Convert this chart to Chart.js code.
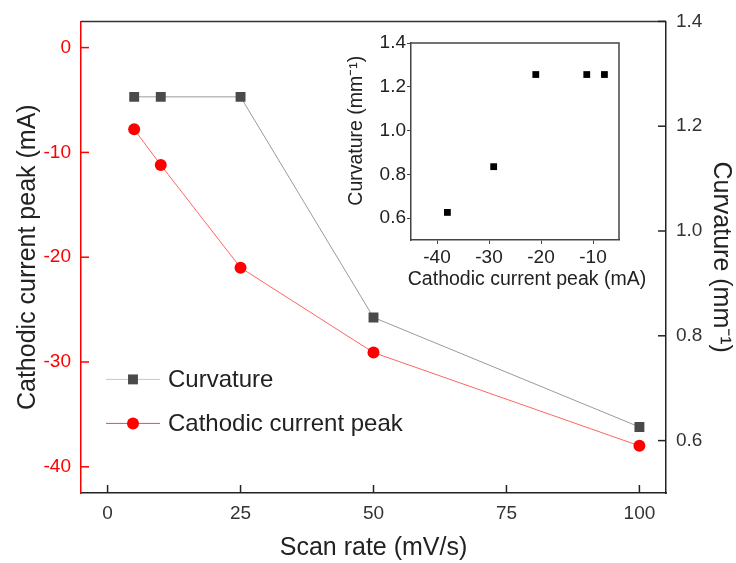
<!DOCTYPE html>
<html>
<head>
<meta charset="utf-8">
<script src="https://cdn.jsdelivr.net/npm/chart.js@4/dist/chart.umd.min.js"></script>
<style>
  html, body { margin: 0; padding: 0; background: #fff; }
  #wrap { position: relative; width: 736px; height: 563px; }
  #main { position: absolute; left: 0; top: 0; }
  #inset { position: absolute; left: 340px; top: 20px; }
</style>
</head>
<body>
<div id="wrap">
  <canvas id="main" width="736" height="563"></canvas>
  <canvas id="inset" width="320" height="280"></canvas>
</div>
<script>
// Measured values
const scanRates = [5, 10, 25, 50, 100];                  // mV/s
const curvature = [1.256, 1.256, 1.256, 0.835, 0.626];   // mm^-1
const cathodicPeak = [-7.8, -11.2, -21.0, -29.1, -38.0]; // mA

// Tick positions
const scanRateTicks = [0, 25, 50, 75, 100];
const peakTicks = [0, -10, -20, -30, -40];
const curvatureTicks = [0.6, 0.8, 1.0, 1.2, 1.4];
const insetPeakTicks = [-40, -30, -20, -10];

const FONT = '"Liberation Sans", Arial, Helvetica, sans-serif';
const RED = '#ff0000';

function fixedTicks(values) {
  return scale => { scale.ticks = values.map(v => ({ value: v })); };
}

// Short tick marks pointing into the plot, plus the top frame line
const innerTicks = {
  id: 'innerTicks',
  afterDraw(chart) {
    const { ctx, chartArea: a, scales } = chart;
    const len = 8;
    ctx.save();
    ctx.lineWidth = 1.5;
    ctx.strokeStyle = '#333';
    ctx.beginPath();
    ctx.moveTo(a.left, a.top);
    ctx.lineTo(a.right, a.top);
    ctx.stroke();
    ctx.strokeStyle = '#222';
    scales.x.ticks.forEach(t => {
      const px = scales.x.getPixelForValue(t.value);
      ctx.beginPath(); ctx.moveTo(px, a.bottom); ctx.lineTo(px, a.bottom - len); ctx.stroke();
    });
    ctx.strokeStyle = RED;
    scales.y.ticks.forEach(t => {
      const py = scales.y.getPixelForValue(t.value);
      ctx.beginPath(); ctx.moveTo(a.left, py); ctx.lineTo(a.left + len, py); ctx.stroke();
    });
    ctx.strokeStyle = '#222';
    scales.y2.ticks.forEach(t => {
      const py = scales.y2.getPixelForValue(t.value);
      ctx.beginPath(); ctx.moveTo(a.right, py); ctx.lineTo(a.right - len, py); ctx.stroke();
    });
    ctx.restore();
  }
};

// Legend drawn inside the lower-left of the plot
const innerLegend = {
  id: 'innerLegend',
  afterDraw(chart) {
    const { ctx, chartArea: a } = chart;
    const x0 = a.left + 25, x1 = a.left + 79, xm = (x0 + x1) / 2;
    const rows = [a.top + 358, a.top + 402];
    ctx.save();
    chart.data.datasets.forEach((ds, i) => {
      const y = rows[i];
      ctx.strokeStyle = ds.legendLine;
      ctx.lineWidth = 1;
      ctx.beginPath(); ctx.moveTo(x0, y); ctx.lineTo(x1, y); ctx.stroke();
      ctx.fillStyle = ds.pointBackgroundColor;
      if (ds.pointStyle === 'rect') {
        const s = ds.pointRadius * Math.SQRT1_2;
        ctx.fillRect(xm - s, y - s, 2 * s, 2 * s);
      } else {
        ctx.beginPath(); ctx.arc(xm, y, ds.pointRadius, 0, Math.PI * 2); ctx.fill();
      }
      ctx.fillStyle = '#222';
      ctx.font = '24px ' + FONT;
      ctx.textBaseline = 'middle';
      ctx.textAlign = 'left';
      ctx.fillText(ds.label, x1 + 8, y + 1);
    });
    ctx.restore();
  }
};

new Chart(document.getElementById('main'), {
  type: 'line',
  data: {
    datasets: [
      {
        label: 'Curvature',
        yAxisID: 'y2',
        data: scanRates.map((x, i) => ({ x, y: curvature[i] })),
        borderColor: '#9a9a9a',
        borderWidth: 1,
        pointStyle: 'rect',
        pointRadius: 7,
        pointBackgroundColor: '#4a4a4a',
        pointBorderColor: '#4a4a4a',
        pointBorderWidth: 0,
        legendLine: '#c8c8c8'
      },
      {
        label: 'Cathodic current peak',
        yAxisID: 'y',
        data: scanRates.map((x, i) => ({ x, y: cathodicPeak[i] })),
        borderColor: '#ff6464',
        borderWidth: 1,
        pointStyle: 'circle',
        pointRadius: 6,
        pointBackgroundColor: RED,
        pointBorderColor: RED,
        pointBorderWidth: 0,
        legendLine: '#ff4040'
      }
    ]
  },
  options: {
    responsive: false,
    animation: false,
    devicePixelRatio: 1,
    layout: { padding: { top: 20, left: 0, right: 0, bottom: 0 } },
    plugins: { legend: { display: false }, tooltip: { enabled: false } },
    scales: {
      x: {
        type: 'linear', position: 'bottom', min: -5, max: 105,
        afterBuildTicks: fixedTicks(scanRateTicks),
        afterFit: s => { s.height = 70; },
        grid: { display: false, drawTicks: false },
        border: { display: true, color: '#222', width: 1.5 },
        ticks: { color: '#333', font: { size: 19, family: FONT }, padding: 9, autoSkip: false, maxRotation: 0 },
        title: { display: true, text: 'Scan rate (mV/s)', color: '#222', font: { size: 25, family: FONT }, padding: { top: 0, bottom: 0 } }
      },
      y: {
        type: 'linear', position: 'left', min: -42.5, max: 2.5,
        afterBuildTicks: fixedTicks(peakTicks),
        afterFit: s => { s.width = 81; },
        grid: { display: false, drawTicks: false },
        border: { display: true, color: RED, width: 1.5 },
        ticks: { color: RED, font: { size: 19, family: FONT }, padding: 10, autoSkip: false },
        title: { display: true, text: 'Cathodic current peak (mA)', color: '#222', font: { size: 25, family: FONT }, padding: { top: 13, bottom: 0 } }
      },
      y2: {
        type: 'linear', position: 'right', min: 0.5, max: 1.4,
        afterBuildTicks: fixedTicks(curvatureTicks),
        afterFit: s => { s.width = 70; },
        grid: { display: false, drawTicks: false },
        border: { display: true, color: '#222', width: 1.5 },
        ticks: { color: '#333', font: { size: 19, family: FONT }, padding: 10, autoSkip: false, callback: v => v.toFixed(1) },
        title: { display: true, text: 'Curvature (mm⁻¹)', color: '#222', font: { size: 25, family: FONT }, padding: { top: 0, bottom: 0 } }
      }
    }
  },
  plugins: [innerTicks, innerLegend]
});

// Inset: curvature against cathodic current peak
const insetTitleX = 'Cathodic current peak (mA)';

const insetFrame = {
  id: 'insetFrame',
  afterDraw(chart) {
    const { ctx, chartArea: a } = chart;
    ctx.save();
    ctx.strokeStyle = '#444';
    ctx.lineWidth = 1.5;
    ctx.beginPath();
    ctx.moveTo(a.left, a.top);
    ctx.lineTo(a.right, a.top);
    ctx.lineTo(a.right, a.bottom);
    ctx.stroke();
    // x-axis title, allowed to run wider than the small plot
    ctx.fillStyle = '#222';
    ctx.font = '19.5px ' + FONT;
    ctx.textAlign = 'center';
    ctx.textBaseline = 'middle';
    ctx.fillText(insetTitleX, (a.left + a.right) / 2 + 12, a.bottom + 40);
    ctx.restore();
  }
};

new Chart(document.getElementById('inset'), {
  type: 'scatter',
  data: {
    datasets: [{
      data: cathodicPeak.map((x, i) => ({ x, y: curvature[i] })),
      pointStyle: 'rect',
      pointRadius: 4.8,
      pointBackgroundColor: '#000',
      pointBorderColor: '#000',
      pointBorderWidth: 0,
      showLine: false
    }]
  },
  options: {
    responsive: false,
    animation: false,
    devicePixelRatio: 1,
    layout: { padding: { top: 23, left: 0, right: 41, bottom: 0 } },
    plugins: { legend: { display: false }, tooltip: { enabled: false } },
    scales: {
      x: {
        type: 'linear', position: 'bottom', min: -45, max: -5,
        afterBuildTicks: fixedTicks(insetPeakTicks),
        afterFit: s => { s.height = 60; },
        grid: { display: true, drawOnChartArea: false, drawTicks: true, tickLength: 4, color: '#444' },
        border: { display: true, color: '#444', width: 1.5 },
        ticks: { color: '#222', font: { size: 19, family: FONT }, padding: 2, autoSkip: false, maxRotation: 0 },
        title: { display: false }
      },
      y: {
        type: 'linear', position: 'left', min: 0.5, max: 1.4,
        afterBuildTicks: fixedTicks(curvatureTicks),
        afterFit: s => { s.width = 71; },
        grid: { display: true, drawOnChartArea: false, drawTicks: true, tickLength: 4, color: '#444' },
        border: { display: true, color: '#444', width: 1.5 },
        ticks: { color: '#222', font: { size: 19, family: FONT }, padding: 1, autoSkip: false, callback: v => v.toFixed(1) },
        title: { display: true, text: '    Curvature (mm⁻¹)', color: '#222', font: { size: 19.5, family: FONT }, padding: { top: 5, bottom: 0 } }
      }
    }
  },
  plugins: [insetFrame]
});
</script>
</body>
</html>
